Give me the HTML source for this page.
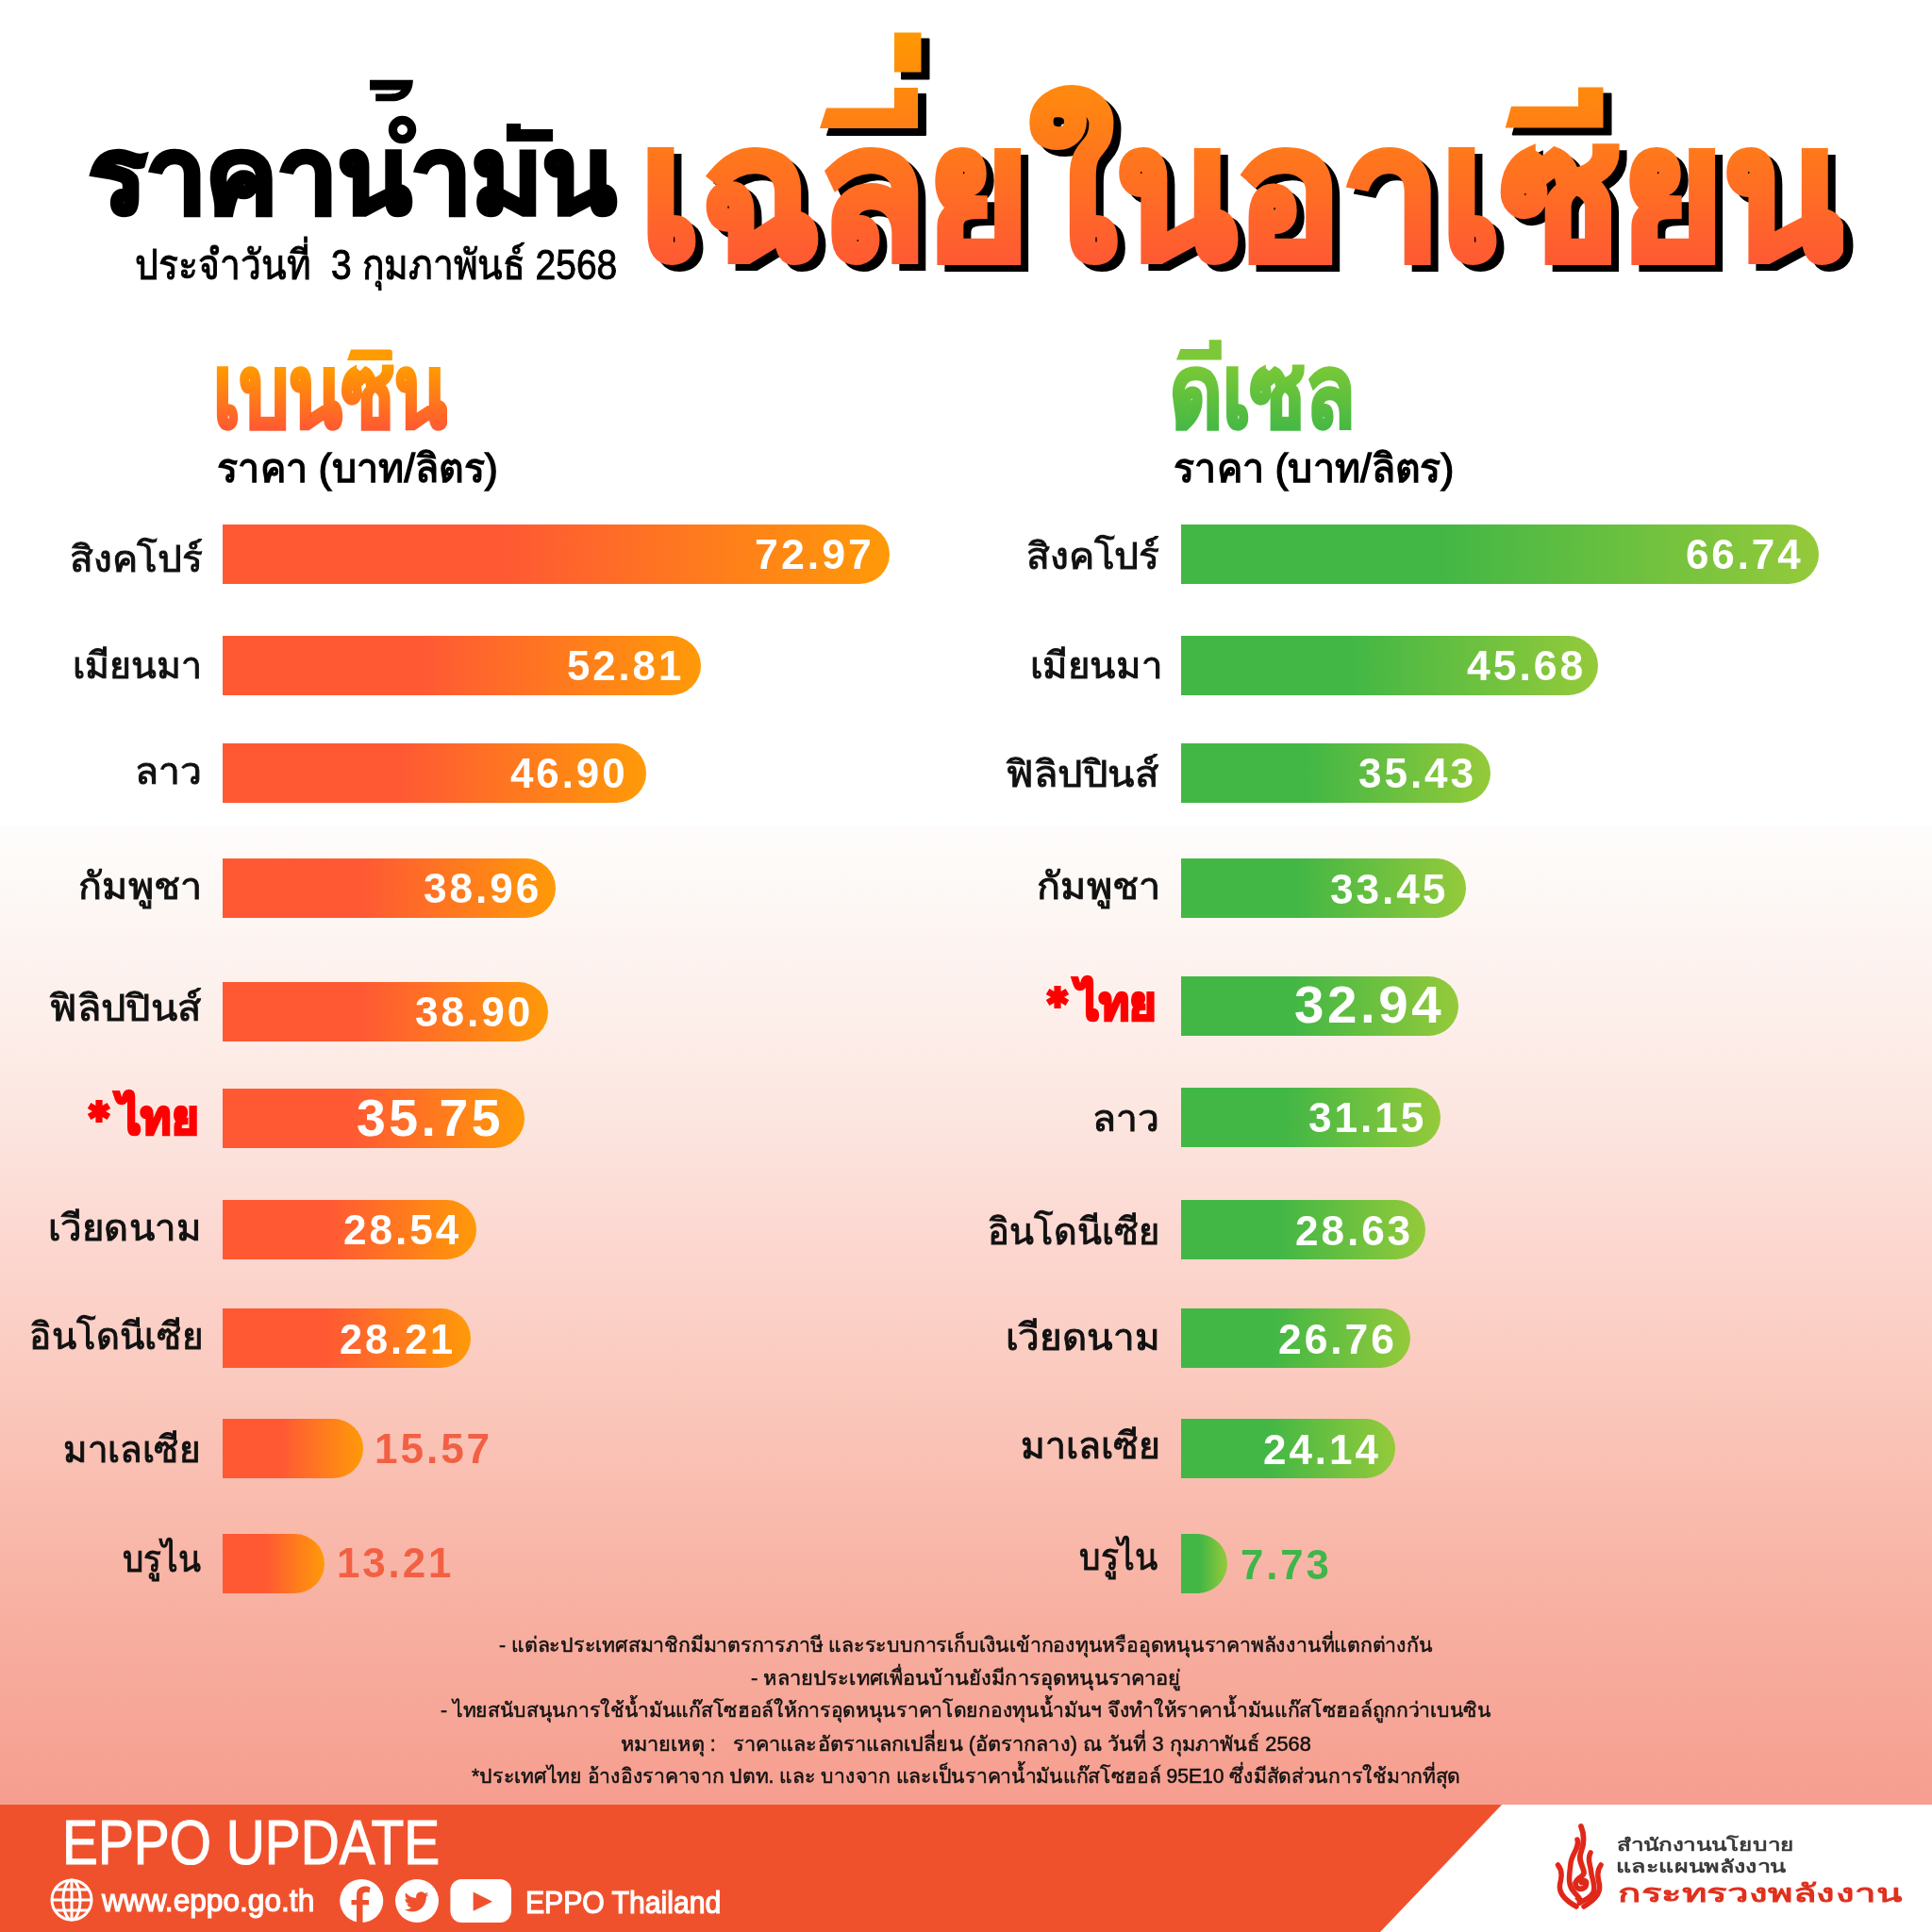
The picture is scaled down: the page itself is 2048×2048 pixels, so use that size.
<!DOCTYPE html>
<html><head><meta charset="utf-8"><title>EPPO ASEAN oil prices</title>
<style>
html,body{margin:0;padding:0;}
body{width:2048px;height:2048px;position:relative;overflow:hidden;font-family:'Liberation Sans',sans-serif;
background:linear-gradient(180deg,#ffffff 0px,#ffffff 874px,#fefcfb 876px,#fdf9f6 940px,#fdf4f1 1000px,#fdede8 1100px,#fce4de 1200px,#fcd9d2 1300px,#fbcbc0 1450px,#f9bbad 1600px,#f7ac9d 1750px,#f69e8f 1912px);}
.t{position:absolute;white-space:nowrap;line-height:1;transform-origin:0 0;}
.bar{position:absolute;height:63px;border-radius:0 31.5px 31.5px 0;}
.o{background:linear-gradient(90deg,#ff5934 0%,#ff5934 42%,#ff9a08 100%);}
.g{background:linear-gradient(90deg,#43b745 0%,#43b745 41%,#95ca3a 100%);}
</style></head><body>

<div class='t' style='left:93.97px;top:132.00px;font-size:110.7px;font-weight:700;color:#000;transform:scaleX(1.0275);-webkit-text-stroke:5px #000;'><span aria-label='ราคาน้ำมัน'>ราคานามน</span></div>
<svg style='position:absolute;left:0;top:0' width='700' height='240' viewBox='0 0 700 240'>
<path d='M392 84.8 H437.8 C437.8 100 428 107.3 416 107.3 H398.2 V99.5 H414 C420 99.5 424 98 425 95.6 H392 Z M536.9 131 H552 V137 H586.1 V150 H536.9 Z' fill='#000'/>
<circle cx='426.5' cy='137.5' r='10.1' fill='none' stroke='#000' stroke-width='9.3'/>
</svg>
<div class='t' style='left:685.72px;top:27px;padding:88.2px 0 20px 0;font-size:195.8px;font-weight:700;color:#000;transform:scaleX(0.9511);-webkit-text-stroke:8px #000;'><span aria-label='เฉลี่ยในอาเซียน'>เฉลยในอาเซยน</span></div>
<svg style='position:absolute;left:0;top:0' width='2048' height='320' viewBox='0 0 2048 320'>
<defs><linearGradient id='og' gradientUnits='userSpaceOnUse' x1='0' y1='40' x2='0' y2='273'>
<stop offset='0' stop-color='#ff9703'/><stop offset='1' stop-color='#ff5b32'/></linearGradient></defs>
<path d='M948 34.6 H976.5 V76.4 H948 Z M869 136 L876 114.5 H948 V93 H973 V136 Z M1595.7 135.6 L1602 112.7 H1673 V92.6 H1699.5 V135.6 Z' transform='translate(8,7)' fill='#000' stroke='#000' stroke-width='2' stroke-linejoin='round'/>
</svg>
<div class='t' style='left:677.72px;top:20px;padding:88.2px 0 20px 0;font-size:195.8px;font-weight:700;transform:scaleX(0.9511);background:linear-gradient(180deg,#ff9703 20px,#ff5b32 253px);-webkit-background-clip:text;background-clip:text;color:transparent;-webkit-text-stroke:8px transparent;'><span aria-label='เฉลี่ยในอาเซียน'>เฉลยในอาเซยน</span></div>
<svg style='position:absolute;left:0;top:0' width='2048' height='320' viewBox='0 0 2048 320'>
<path d='M948 34.6 H976.5 V76.4 H948 Z M869 136 L876 114.5 H948 V93 H973 V136 Z M1595.7 135.6 L1602 112.7 H1673 V92.6 H1699.5 V135.6 Z' fill='url(#og)'/>
</svg>
<div class='t' style='left:143.42px;top:259.20px;font-size:44.1px;font-weight:400;color:#000;transform:scaleX(0.8836);-webkit-text-stroke:1px #000;'>ประจำวันที่&nbsp; 3 กุมภาพันธ์ 2568</div>
<div class='t' style='left:225.66px;top:362.50px;font-size:105.8px;font-weight:700;color:transparent;transform:scaleX(0.7785);background:linear-gradient(180deg,#ff9a00 26.5px,#ff5833 93.5px);-webkit-background-clip:text;background-clip:text;-webkit-text-stroke:4px transparent;'><span aria-label='เบนซิน'>เบนซน</span></div>
<div class='t' style='left:1240.21px;top:362.50px;font-size:105.8px;font-weight:700;color:transparent;transform:scaleX(0.8110);background:linear-gradient(180deg,#78c837 26.5px,#45b845 93.5px);-webkit-background-clip:text;background-clip:text;-webkit-text-stroke:4px transparent;'><span aria-label='ดีเซล'>ดเซล</span></div>
<svg style='position:absolute;left:0;top:340px' width='2048' height='60' viewBox='0 340 2048 60'>
<path d='M372 370.5 H413.5 Q415.8 370.5 415.8 373 V382 H368 Z' fill='#ff9a00'/>
<path d='M1251.3 370 H1281.7 V360.3 H1294.8 V381.5 H1247 Z' fill='#7cc838'/>
</svg>
<div class='t' style='left:230.18px;top:475.90px;font-size:42.2px;font-weight:400;color:#000;transform:scaleX(0.9741);-webkit-text-stroke:1.5px #000;'>ราคา (บาท/ลิตร)</div>
<div class='t' style='left:1244.19px;top:475.90px;font-size:42.2px;font-weight:400;color:#000;transform:scaleX(0.9723);-webkit-text-stroke:1.5px #000;'>ราคา (บาท/ลิตร)</div>
<div class='bar o' style='left:236px;top:556px;width:707.0px'></div>
<div class='t' style='left:800.01px;top:565.25px;font-size:45px;font-weight:700;color:#fff;transform:scaleX(0.9950);letter-spacing:3px;'>72.97</div>
<div class='t' style='left:74.33px;top:573.00px;font-size:39.3px;font-weight:400;color:#111;transform:scaleX(1.0362);-webkit-text-stroke:1px #111;'>สิงคโปร์</div>
<div class='bar o' style='left:236px;top:673.5px;width:506.7px'></div>
<div class='t' style='left:600.72px;top:682.75px;font-size:45px;font-weight:700;color:#fff;transform:scaleX(0.9730);letter-spacing:3px;'>52.81</div>
<div class='t' style='left:77.03px;top:686.30px;font-size:39.3px;font-weight:400;color:#111;transform:scaleX(0.9998);-webkit-text-stroke:1px #111;'>เมียนมา</div>
<div class='bar o' style='left:236px;top:788px;width:448.7px'></div>
<div class='t' style='left:541.00px;top:797.25px;font-size:45px;font-weight:700;color:#fff;transform:scaleX(0.9754);letter-spacing:3px;'>46.90</div>
<div class='t' style='left:143.41px;top:797.90px;font-size:39.3px;font-weight:400;color:#111;transform:scaleX(1.0400);-webkit-text-stroke:1px #111;'>ลาว</div>
<div class='bar o' style='left:236px;top:910px;width:353.4px'></div>
<div class='t' style='left:449.46px;top:918.95px;font-size:45px;font-weight:700;color:#fff;transform:scaleX(0.9811);letter-spacing:3px;'>38.96</div>
<div class='t' style='left:82.76px;top:919.50px;font-size:39.3px;font-weight:400;color:#111;transform:scaleX(1.0511);-webkit-text-stroke:1px #111;'>กัมพูชา</div>
<div class='bar o' style='left:236px;top:1040.5px;width:344.6px'></div>
<div class='t' style='left:440.35px;top:1049.75px;font-size:45px;font-weight:700;color:#fff;transform:scaleX(0.9811);letter-spacing:3px;'>38.90</div>
<div class='t' style='left:51.70px;top:1048.70px;font-size:39.3px;font-weight:400;color:#111;transform:scaleX(1.0564);-webkit-text-stroke:1px #111;'>ฟิลิปปินส์</div>
<div class='bar o' style='left:236px;top:1154px;width:319.7px'></div>
<div class='t' style='left:378.01px;top:1158.35px;font-size:55.7px;font-weight:700;color:#fff;transform:scaleX(0.9947);letter-spacing:3.5px;'>35.75</div>
<div class='t' style='left:125.20px;top:1160.00px;font-size:50px;font-weight:700;color:#ff0000;transform:scaleX(0.9785);-webkit-text-stroke:3px #ff0000;'><span aria-label='*ไทย'>ไทย</span></div>
<svg style='position:absolute;left:88.8px;top:1162.0px' width='32' height='32' viewBox='-16 -16 32 32'><g fill='#ff0000'><rect x='-3.6' y='-12' width='7.2' height='24'/><rect x='-3.6' y='-12' width='7.2' height='24' transform='rotate(60)'/><rect x='-3.6' y='-12' width='7.2' height='24' transform='rotate(120)'/></g></svg>
<div class='bar o' style='left:236px;top:1271.5px;width:269.4px'></div>
<div class='t' style='left:363.91px;top:1281.05px;font-size:45px;font-weight:700;color:#fff;transform:scaleX(0.9811);letter-spacing:3px;'>28.54</div>
<div class='t' style='left:51.35px;top:1282.20px;font-size:39.3px;font-weight:400;color:#111;transform:scaleX(1.0206);-webkit-text-stroke:1px #111;'>เวียดนาม</div>
<div class='bar o' style='left:236px;top:1387px;width:262.8px'></div>
<div class='t' style='left:359.94px;top:1396.55px;font-size:45px;font-weight:700;color:#fff;transform:scaleX(0.9631);letter-spacing:3px;'>28.21</div>
<div class='t' style='left:30.65px;top:1397.00px;font-size:39.3px;font-weight:400;color:#111;transform:scaleX(0.9796);-webkit-text-stroke:1px #111;'>อินโดนีเซีย</div>
<div class='bar o' style='left:236px;top:1503.5px;width:148.7px'></div>
<div class='t' style='left:397.18px;top:1512.65px;font-size:45px;font-weight:700;color:#f26044;transform:scaleX(0.9801);letter-spacing:3px;'>15.57</div>
<div class='t' style='left:67.08px;top:1517.30px;font-size:39.3px;font-weight:400;color:#111;transform:scaleX(0.9826);-webkit-text-stroke:1px #111;'>มาเลเซีย</div>
<div class='bar o' style='left:236px;top:1626px;width:108.3px'></div>
<div class='t' style='left:357.07px;top:1633.95px;font-size:45px;font-weight:700;color:#f26044;transform:scaleX(0.9744);letter-spacing:3px;'>13.21</div>
<div class='t' style='left:129.79px;top:1633.40px;font-size:39.3px;font-weight:400;color:#111;transform:scaleX(0.8944);-webkit-text-stroke:1px #111;'>บรูไน</div>
<div class='bar g' style='left:1252px;top:556px;width:676.0px'></div>
<div class='t' style='left:1787.02px;top:565.25px;font-size:45px;font-weight:700;color:#fff;transform:scaleX(0.9763);letter-spacing:3px;'>66.74</div>
<div class='t' style='left:1087.92px;top:569.50px;font-size:39.3px;font-weight:400;color:#111;transform:scaleX(1.0376);-webkit-text-stroke:1px #111;'>สิงคโปร์</div>
<div class='bar g' style='left:1252px;top:673.5px;width:441.7px'></div>
<div class='t' style='left:1554.90px;top:682.75px;font-size:45px;font-weight:700;color:#fff;transform:scaleX(0.9893);letter-spacing:3px;'>45.68</div>
<div class='t' style='left:1091.86px;top:685.70px;font-size:39.3px;font-weight:400;color:#111;transform:scaleX(1.0226);-webkit-text-stroke:1px #111;'>เมียนมา</div>
<div class='bar g' style='left:1252px;top:788px;width:328.0px'></div>
<div class='t' style='left:1439.89px;top:796.85px;font-size:45px;font-weight:700;color:#fff;transform:scaleX(0.9796);letter-spacing:3px;'>35.43</div>
<div class='t' style='left:1065.99px;top:800.70px;font-size:39.3px;font-weight:400;color:#111;transform:scaleX(1.0602);-webkit-text-stroke:1px #111;'>ฟิลิปปินส์</div>
<div class='bar g' style='left:1252px;top:910px;width:301.7px'></div>
<div class='t' style='left:1409.58px;top:919.55px;font-size:45px;font-weight:700;color:#fff;transform:scaleX(0.9811);letter-spacing:3px;'>33.45</div>
<div class='t' style='left:1098.69px;top:920.30px;font-size:39.3px;font-weight:400;color:#111;transform:scaleX(1.0528);-webkit-text-stroke:1px #111;'>กัมพูชา</div>
<div class='bar g' style='left:1252px;top:1034.5px;width:293.6px'></div>
<div class='t' style='left:1372.10px;top:1038.05px;font-size:55.7px;font-weight:700;color:#fff;transform:scaleX(1.0143);letter-spacing:3.5px;'>32.94</div>
<div class='t' style='left:1141.16px;top:1039.00px;font-size:50px;font-weight:700;color:#ff0000;transform:scaleX(0.9732);-webkit-text-stroke:3px #ff0000;'><span aria-label='*ไทย'>ไทย</span></div>
<svg style='position:absolute;left:1104.9px;top:1041.1px' width='32' height='32' viewBox='-16 -16 32 32'><g fill='#ff0000'><rect x='-3.6' y='-12' width='7.2' height='24'/><rect x='-3.6' y='-12' width='7.2' height='24' transform='rotate(60)'/><rect x='-3.6' y='-12' width='7.2' height='24' transform='rotate(120)'/></g></svg>
<div class='bar g' style='left:1252px;top:1152.7px;width:275.0px'></div>
<div class='t' style='left:1386.58px;top:1162.25px;font-size:45px;font-weight:700;color:#fff;transform:scaleX(0.9828);letter-spacing:3px;'>31.15</div>
<div class='t' style='left:1157.84px;top:1165.90px;font-size:39.3px;font-weight:400;color:#111;transform:scaleX(1.0400);-webkit-text-stroke:1px #111;'>ลาว</div>
<div class='bar g' style='left:1252px;top:1272px;width:259.3px'></div>
<div class='t' style='left:1373.02px;top:1281.75px;font-size:45px;font-weight:700;color:#fff;transform:scaleX(0.9803);letter-spacing:3px;'>28.63</div>
<div class='t' style='left:1046.90px;top:1286.00px;font-size:39.3px;font-weight:400;color:#111;transform:scaleX(0.9690);-webkit-text-stroke:1px #111;'>อินโดนีเซีย</div>
<div class='bar g' style='left:1252px;top:1386.5px;width:243.3px'></div>
<div class='t' style='left:1354.57px;top:1397.25px;font-size:45px;font-weight:700;color:#fff;transform:scaleX(0.9868);letter-spacing:3px;'>26.76</div>
<div class='t' style='left:1066.42px;top:1398.10px;font-size:39.3px;font-weight:400;color:#111;transform:scaleX(1.0295);-webkit-text-stroke:1px #111;'>เวียดนาม</div>
<div class='bar g' style='left:1252px;top:1503.5px;width:226.7px'></div>
<div class='t' style='left:1338.59px;top:1513.65px;font-size:45px;font-weight:700;color:#fff;transform:scaleX(0.9780);letter-spacing:3px;'>24.14</div>
<div class='t' style='left:1082.45px;top:1513.10px;font-size:39.3px;font-weight:400;color:#111;transform:scaleX(0.9967);-webkit-text-stroke:1px #111;'>มาเลเซีย</div>
<div class='bar g' style='left:1252px;top:1626px;width:49.4px'></div>
<div class='t' style='left:1315.06px;top:1635.55px;font-size:45px;font-weight:700;color:#3fb54a;transform:scaleX(0.9709);letter-spacing:3px;'>7.73</div>
<div class='t' style='left:1144.17px;top:1631.10px;font-size:39.3px;font-weight:400;color:#111;transform:scaleX(0.9011);-webkit-text-stroke:1px #111;'>บรูไน</div>
<div class='t' style='left:529.02px;top:1733.17px;font-size:21.6px;font-weight:400;color:#111;transform:scaleX(0.9835);-webkit-text-stroke:0.5px #111;'>- แต่ละประเทศสมาชิกมีมาตรการภาษี และระบบการเก็บเงินเข้ากองทุนหรืออุดหนุนราคาพลังงานที่แตกต่างกัน</div>
<div class='t' style='left:795.99px;top:1768.17px;font-size:21.6px;font-weight:400;color:#111;transform:scaleX(1.0120);-webkit-text-stroke:0.5px #111;'>- หลายประเทศเพื่อนบ้านยังมีการอุดหนุนราคาอยู่</div>
<div class='t' style='left:467.02px;top:1802.17px;font-size:21.6px;font-weight:400;color:#111;transform:scaleX(0.9776);-webkit-text-stroke:0.5px #111;'>- ไทยสนับสนุนการใช้น้ำมันแก๊สโซฮอล์ให้การอุดหนุนราคาโดยกองทุนน้ำมันฯ จึงทำให้ราคาน้ำมันแก๊สโซฮอล์ถูกกว่าเบนซิน</div>
<div class='t' style='left:658.03px;top:1837.77px;font-size:21.6px;font-weight:400;color:#111;transform:scaleX(1.0073);-webkit-text-stroke:0.5px #111;'>หมายเหตุ :&nbsp;&nbsp; ราคาและอัตราแลกเปลี่ยน (อัตรากลาง) ณ วันที่ 3 กุมภาพันธ์ 2568</div>
<div class='t' style='left:500.12px;top:1871.97px;font-size:21.6px;font-weight:400;color:#111;transform:scaleX(0.9788);-webkit-text-stroke:0.5px #111;'>*ประเทศไทย อ้างอิงราคาจาก ปตท. และ บางจาก และเป็นราคาน้ำมันแก๊สโซฮอล์ 95E10 ซึ่งมีสัดส่วนการใช้มากที่สุด</div>
<div style='position:absolute;left:0;top:1913px;width:2048px;height:135px;background:#f0512d'></div>
<svg style='position:absolute;left:0;top:1913px' width='2048' height='135' viewBox='0 0 2048 135'>
<polygon points='1592,0 2048,0 2048,135 1463,135' fill='#ffffff'/>
</svg>
<div class='t' style='left:66.24px;top:1921.00px;font-size:65.8px;font-weight:400;color:#fff;transform:scaleX(0.8638);-webkit-text-stroke:1.2px #fff;'>EPPO UPDATE</div>
<div class='t' style='left:108.05px;top:1997.10px;font-size:34px;font-weight:400;color:#fff;transform:scaleX(0.9311);-webkit-text-stroke:1.2px #fff;'>www.eppo.go.th</div>
<div class='t' style='left:556.65px;top:1999.90px;font-size:33px;font-weight:400;color:#fff;transform:scaleX(0.9136);-webkit-text-stroke:1.2px #fff;'>EPPO Thailand</div>
<svg style='position:absolute;left:0;top:1980px' width='800' height='68' viewBox='0 1980 800 68'>
<g fill='none' stroke='#fff' stroke-width='3'>
<circle cx='76' cy='2014' r='21'/>
<ellipse cx='76' cy='2014' rx='9' ry='21'/>
<line x1='55' y1='2014' x2='97' y2='2014'/>
<line x1='76' y1='1993' x2='76' y2='2035'/>
<path d='M59 2003 H93 M59 2025 H93'/>
</g>
<circle cx='383.2' cy='2015' r='23' fill='#fff'/>
<path d='M378 2039 V2019.3 H372.5 V2014 H378 V2009 C378 2002 382 1999.5 388 1999.5 C390 1999.5 391.5 2000 392.5 2001 L391.5 2006.5 C390.5 2006 389.5 2005.8 388.5 2005.8 C385.5 2005.8 384.5 2007 384.5 2009.5 V2014 H391 V2019.3 H384.5 V2039 Z' fill='#f0512d'/>
<circle cx='442' cy='2015' r='23' fill='#fff'/>
<path transform='translate(428.5 2003) scale(1.08)' d='M23.95 4.57a10 10 0 0 1-2.82.77 4.96 4.96 0 0 0 2.16-2.72c-.95.56-2 .96-3.12 1.19a4.92 4.92 0 0 0-8.38 4.48A13.94 13.94 0 0 1 1.64 3.16a4.92 4.92 0 0 0 1.520 6.57 4.9 4.9 0 0 1-2.23-.62v.06a4.92 4.92 0 0 0 3.95 4.830 4.96 4.96 0 0 1-2.22.08 4.93 4.93 0 0 0 4.6 3.42A9.87 9.87 0 0 1 0 19.54a13.94 13.94 0 0 0 7.56 2.21c9.05 0 14-7.5 14-13.980 0-.21 0-.42-.02-.63A9.94 9.94 0 0 0 24 4.59z' fill='#f0512d'/>
<rect x='477.4' y='1992' width='64.6' height='46' rx='12' fill='#fff'/>
<path d='M501.6 2005.6 L522 2015.7 L501.6 2025.8 Z' fill='#f0512d'/>
</svg>
<svg style='position:absolute;left:1640px;top:1930px' width='70' height='95' viewBox='0 0 70 95'>
<g fill='none' stroke='#e0281a' stroke-linecap='round' stroke-linejoin='round'>
<path d='M11.5 47 C17 54 15 61 13.5 68 C12 79 22 86 31 91' stroke-width='5.5'/>
<path d='M57 47 C52 54 54 61 55.5 68 C57 79 47 86 39 91' stroke-width='5.5'/>
<path d='M32 20 C35 28 26 35 25 45 C24 56 21 67 28 75 C32 80 36 82 34.5 87' stroke-width='5.5'/>
<path d='M46 34 C42 41 46 47 46.5 53 C47 61 52 68 49 76 C46 82 40 84 34.5 87' stroke-width='5.5'/>
<path d='M36 6 C40 16 39 25 36 33 C32 43 39 49 39 55 C39 60 30 61 30 67 C30 74 41 74 41.5 67 C42 63 37.5 62 36.5 65.5' stroke-width='5.8'/>
</g>
<path d='M29 82 L34.5 89 L40 82 Z' fill='#e0281a'/>
</svg>
<div class='t' style='left:1714.49px;top:1946.58px;font-size:18.3px;font-weight:700;color:#3a3a3a;transform:scaleX(1.3298);'>สำนักงานนโยบาย</div>
<div class='t' style='left:1713.45px;top:1970.38px;font-size:18.3px;font-weight:700;color:#3a3a3a;transform:scaleX(1.3732);'>และแผนพลังงาน</div>
<div class='t' style='left:1714.62px;top:1993.74px;font-size:26px;font-weight:400;color:#e0301e;transform:scaleX(1.5470);-webkit-text-stroke:1px #e0301e;'>กระทรวงพลังงาน</div>
</body></html>
